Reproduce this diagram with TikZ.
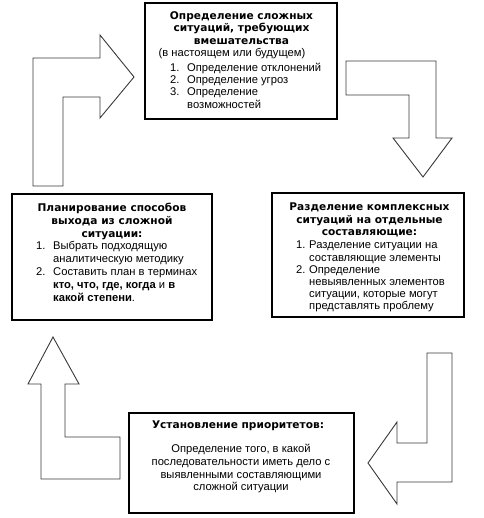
\documentclass[tikz,border=0pt]{standalone}
\usepackage{fontspec}
\setmainfont{Liberation Sans}
\newfontfamily\headfont{DejaVu Sans}
\usepackage{xcolor}
\usepackage{tikz}
\usetikzlibrary{positioning, calc}
\definecolor{arrowgray}{rgb}{0.22,0.22,0.22}
\newcommand{\itemno}[2]{\makebox[#1][l]{#2}}

\begin{document}
\begin{tikzpicture}[x=1pt, y=-1pt,
    frame/.style={draw=black, line width=1.1pt, inner sep=0pt},
    bigarrow/.style={draw=arrowgray, line width=0.9pt, line join=miter},
    head/.style={inner sep=0pt, align=center, font={\headfont\bfseries\fontsize{10.6}{12.8}\selectfont}},
    body/.style={inner sep=0pt, font={\fontsize{11.2}{12.3}\selectfont}}]
      \useasboundingbox (0,0) rectangle (483,518);

      \draw [bigarrow] plot coordinates { (33,186) (33,58) (100,58) (100,35) (134,77) (100,118) (100,97) (63,97) (63,186) } -- cycle;
      \draw [bigarrow] plot coordinates { (346,61) (436,61) (436,138) (452,138) (423,177) (393,138) (409,138) (409,95) (346,95) } -- cycle;
      \draw [bigarrow] plot coordinates { (452,353) (452,482) (397,482) (397,504) (368,463) (397,422) (397,443) (427,443) (427,353) } -- cycle;
      \draw [bigarrow] plot coordinates { (53,337) (79,384) (65,384) (65,437) (120,437) (120,479) (41,479) (41,384) (28,384) } -- cycle;

      \node[frame, minimum width=192pt, minimum height=116pt] (sit) at (241,61) {};
      \node[head, anchor=north] (sitHead) at (241.5,11) {Определение сложных\\ситуаций, требующих\\вмешательства};
      \node[body, anchor=base] (sitNote) at (232,57) {(в настоящем или будущем)};
      \node[body, anchor=north west, align=left] (sitList) at (170,62.6) {\itemno{17pt}{1.}Определение отклонений\\\itemno{17pt}{2.}Определение угроз\\\itemno{17pt}{3.}Определение\\\itemno{17pt}{}возможностей};

      \node[frame, minimum width=192pt, minimum height=124pt] (split) at (368,255) {};
      \node[head, anchor=north] (splitHead) at (369.5,202.3) {Разделение комплексных\\ситуаций на отдельные\\составляющие:};
      \node[body, anchor=north west, align=left, font={\fontsize{11.2}{12.2}\selectfont}] (splitList) at (296,241) {\itemno{13pt}{1.}Разделение ситуации на\\\itemno{13pt}{}составляющие элементы\\\itemno{13pt}{2.}Определение\\\itemno{13pt}{}невыявленных элементов\\\itemno{13pt}{}ситуации, которые могут\\\itemno{13pt}{}представлять проблему};

      \node[frame, minimum width=225pt, minimum height=100pt] (prio) at (241.5,463) {};
      \node[head, anchor=base] (prioHead) at (238,428.3) {Установление приоритетов:};
      \node[body, anchor=north, align=center, font={\fontsize{11.2}{12.6}\selectfont}] (prioText) at (241,444.3) {Определение того, в какой\\последовательности иметь дело с\\выявленными составляющими\\сложной ситуации};

      \node[frame, minimum width=200pt, minimum height=126pt] (plan) at (112,257) {};
      \node[head, anchor=north] (planHead) at (112,203) {Планирование способов\\выхода из сложной\\ситуации:};
      \node[body, anchor=north west, align=left, font={\fontsize{11.2}{12.9}\selectfont}] (planList) at (36,241) {\itemno{17pt}{1.}Выбрать подходящую\\\itemno{17pt}{}аналитическую методику\\\itemno{17pt}{2.}Составить план в терминах\\\itemno{17pt}{}{\bfseries кто, что, где, когда} и {\bfseries в}\\\itemno{17pt}{}{\bfseries какой степени}.};
    \end{tikzpicture}
\end{document}
